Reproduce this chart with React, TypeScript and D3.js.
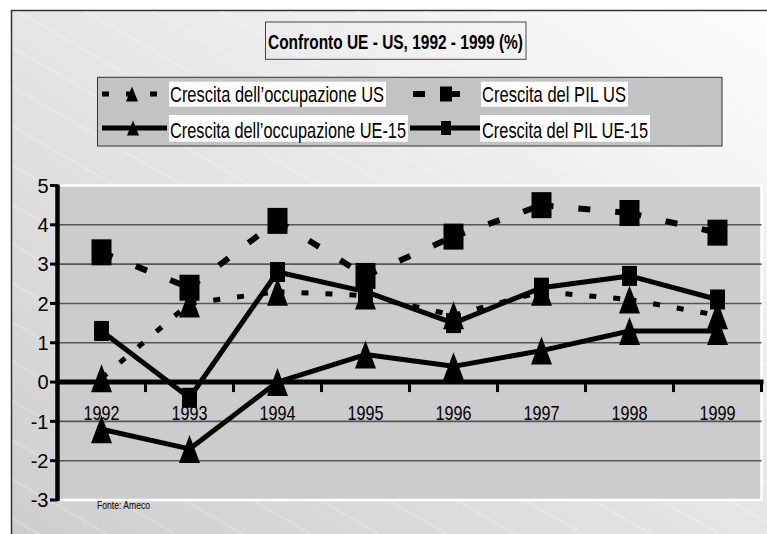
import React from "react";
import * as d3 from "d3";

const years = ["1992", "1993", "1994", "1995", "1996", "1997", "1998", "1999"];
const empUS = [0.1, 2.0, 2.3, 2.2, 1.7, 2.3, 2.1, 1.7];
const pilUS = [3.3, 2.4, 4.1, 2.7, 3.7, 4.5, 4.3, 3.8];
const empUE = [-1.2, -1.7, 0.0, 0.7, 0.4, 0.8, 1.3, 1.3];
const pilUE = [1.3, -0.4, 2.8, 2.3, 1.5, 2.4, 2.7, 2.1];
const yTicks = [5, 4, 3, 2, 1, 0, -1, -2, -3];
const title = "Confronto UE - US, 1992 - 1999 (%)";
const legendLabels = [
  "Crescita dell\u2019occupazione US",
  "Crescita del PIL US",
  "Crescita dell\u2019occupazione UE-15",
  "Crescita del PIL UE-15",
];
const source = "Fonte: Ameco";

const W = 767;
const H = 534;
const PL = 57.5;
const PR = 761.5;
const PT = 185.5;
const PB = 500;
const NARROW = "'Liberation Sans Narrow', 'Arial Narrow', 'Liberation Sans', Arial, sans-serif";
const ARIAL = "'Liberation Sans', Arial, sans-serif";

type Marker = "tri" | "sq";
interface Series {
  values: number[];
  dash: string | null;
  width: number;
  marker: Marker;
  mw: number;
  mh: number;
}

const series: Series[] = [
  { values: empUS, dash: "7 17", width: 5, marker: "tri", mw: 21, mh: 28 },
  { values: pilUS, dash: "12 25", width: 6, marker: "sq", mw: 20, mh: 26 },
  { values: empUE, dash: null, width: 5, marker: "tri", mw: 21, mh: 28 },
  { values: pilUE, dash: null, width: 5, marker: "sq", mw: 15, mh: 20 },
];

function markerShape(m: Marker, cx: number, cy: number, w: number, h: number, key: string) {
  if (m === "tri") {
    const p = `M${cx},${cy - h / 2}L${cx + w / 2},${cy + h / 2}L${cx - w / 2},${cy + h / 2}Z`;
    return <path key={key} d={p} fill="#000" />;
  }
  return <rect key={key} x={cx - w / 2} y={cy - h / 2} width={w} height={h} fill="#000" />;
}

export default function App() {
  const x = d3.scaleBand<string>().domain(years).range([PL, PR]).padding(0);
  const y = d3.scaleLinear().domain([-3, 5]).range([PB, PT]);
  const cx = (yr: string) => (x(yr) as number) + x.bandwidth() / 2;
  const line = d3
    .line<[number, number]>()
    .x((d) => d[0])
    .y((d) => d[1]);

  const boundaries = d3.range(years.length + 1).map((i) => PL + i * x.bandwidth());

  const legendRows = [
    { y: 94, base: 102, tx: 170, len: 214, bx: 169, bw: 217, by: 81.7, bh: 25 },
    { y: 94, base: 102, tx: 482, len: 144, bx: 481, bw: 147, by: 81.7, bh: 25 },
    { y: 128, base: 137.5, tx: 170, len: 236, bx: 169, bw: 239, by: 115, bh: 26.7 },
    { y: 128, base: 137.5, tx: 482, len: 166, bx: 480, bw: 170, by: 115, bh: 26.7 },
  ];
  const legendSym = [
    { x1: 102, x2: 157, mx: 132, mw: 12, mh: 15 },
    { x1: 413, x2: 460, mx: 446, mw: 12, mh: 15 },
    { x1: 102, x2: 167, mx: 133, mw: 12, mh: 15 },
    { x1: 410, x2: 480, mx: 446, mw: 10, mh: 14 },
  ];

  return (
    <svg
      width={W}
      height={H}
      viewBox={`0 0 ${W} ${H}`}
      style={{ position: "absolute", left: 0, top: 0, background: "#fff" }}
    >
      <defs>
        <linearGradient id="bg" x1="0" y1="1" x2="1" y2="0">
          <stop offset="0" stopColor="#cdcdcd" />
          <stop offset="1" stopColor="#fdfdfd" />
        </linearGradient>
        <pattern id="stripes" width="60" height="34" patternUnits="userSpaceOnUse" patternTransform="rotate(30)">
          <line x1="0" y1="1" x2="60" y2="1" stroke="#ffffff" strokeOpacity="0.4" strokeWidth="1" />
        </pattern>
      </defs>

      {/* chart frame */}
      <rect x={11.5} y={10.5} width={W} height={H} fill="url(#bg)" stroke="#333" strokeWidth={1.5} />
      <rect x={12} y={11} width={W} height={H} fill="url(#stripes)" />

      {/* title */}
      <rect x={265.5} y={22} width={260.5} height={37.3} fill="none" stroke="#444" strokeWidth={1} />
      <text
        x={268}
        y={48.5}
        fontFamily={NARROW}
        fontWeight="bold"
        fontSize={20}
        textLength={255}
        lengthAdjust="spacingAndGlyphs"
        fill="#000"
      >
        {title}
      </text>

      {/* legend */}
      <rect x={97.5} y={77.3} width={624.5} height={68.7} fill="#c3c3c3" stroke="#333" strokeWidth={1} />
      {legendRows.map((r, i) => (
        <g key={`leg${i}`}>
          <rect x={r.bx} y={r.by} width={r.bw} height={r.bh} fill="#fff" />
          <text
            x={r.tx}
            y={r.base}
            fontFamily={NARROW}
            fontSize={22}
            textLength={r.len}
            lengthAdjust="spacingAndGlyphs"
            fill="#000"
          >
            {legendLabels[i]}
          </text>
          <line
            x1={legendSym[i].x1}
            x2={legendSym[i].x2}
            y1={r.y}
            y2={r.y}
            stroke="#000"
            strokeWidth={series[i].width}
            strokeDasharray={series[i].dash ?? undefined}
          />
          {markerShape(series[i].marker, legendSym[i].mx, r.y, legendSym[i].mw, legendSym[i].mh, `lm${i}`)}
        </g>
      ))}

      {/* plot area */}
      <rect x={PL} y={PT} width={PR - PL} height={PB - PT} fill="#cccccc" stroke="#ffffff" strokeWidth={2.5} />
      {yTicks
        .filter((t) => t !== 5 && t !== -3 && t !== 0)
        .map((t) => (
          <line key={`g${t}`} x1={PL} x2={PR} y1={y(t)} y2={y(t)} stroke="#555" strokeWidth={1.6} />
        ))}

      {/* y axis */}
      <line x1={PL} x2={PL} y1={PT - 1} y2={PB + 1} stroke="#000" strokeWidth={4.5} />
      {yTicks.map((t) => (
        <g key={`yt${t}`}>
          <line x1={50} x2={PL} y1={y(t)} y2={y(t)} stroke="#000" strokeWidth={3} />
          <text
            x={48.5}
            y={y(t)}
            dy="0.36em"
            textAnchor="end"
            fontFamily={ARIAL}
            fontSize={20}
            fill="#000"
          >
            {t}
          </text>
        </g>
      ))}

      {/* x axis */}
      <line x1={PL} x2={PR + 2} y1={y(0)} y2={y(0)} stroke="#000" strokeWidth={5} />
      {boundaries.map((bx, i) => (
        <line key={`xt${i}`} x1={bx} x2={bx} y1={y(0)} y2={y(0) + 10} stroke="#000" strokeWidth={3} />
      ))}
      {years.map((yr) => (
        <text
          key={`xl${yr}`}
          x={cx(yr)}
          y={420}
          textAnchor="middle"
          fontFamily={NARROW}
          fontSize={21}
          textLength={36}
          lengthAdjust="spacingAndGlyphs"
          fill="#000"
        >
          {yr}
        </text>
      ))}

      {/* series */}
      {series.map((s, si) => (
        <g key={`s${si}`}>
          {s.values.slice(0, -1).map((v, i) => {
            const pts: [number, number][] = [
              [cx(years[i]), y(v)],
              [cx(years[i + 1]), y(s.values[i + 1])],
            ];
            return (
              <path
                key={`seg${si}-${i}`}
                d={line(pts) ?? ""}
                fill="none"
                stroke="#000"
                strokeWidth={s.width}
                strokeDasharray={s.dash ?? undefined}
              />
            );
          })}
          {s.values.map((v, i) => markerShape(s.marker, cx(years[i]), y(v), s.mw, s.mh, `m${si}-${i}`))}
        </g>
      ))}

      {/* source */}
      <text
        x={97}
        y={509}
        fontFamily={NARROW}
        fontSize={11}
        textLength={53}
        lengthAdjust="spacingAndGlyphs"
        fill="#000"
      >
        {source}
      </text>
    </svg>
  );
}
